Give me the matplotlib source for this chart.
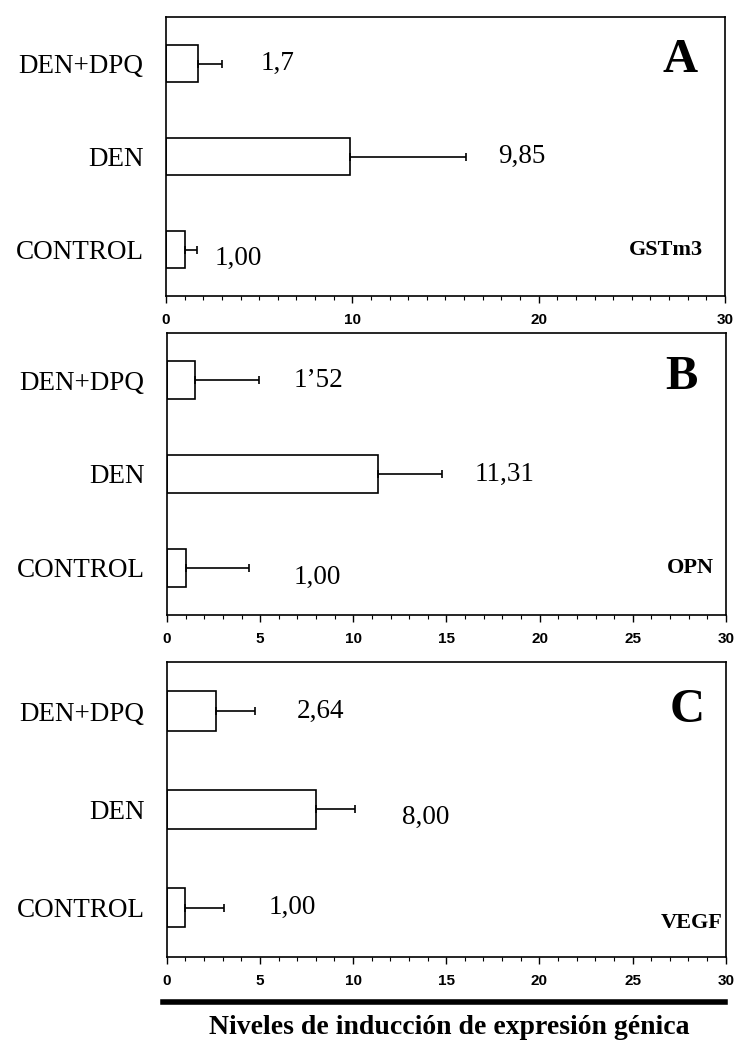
import matplotlib
matplotlib.use("Agg")
import matplotlib.pyplot as plt
from matplotlib.ticker import MultipleLocator
from matplotlib.lines import Line2D

# data
categories = ["CONTROL", "DEN", "DEN+DPQ"]
gstm3_vals = [1.00, 9.85, 1.70]
gstm3_err = [0.66, 6.25, 1.30]
gstm3_text = ["1,00", "9,85", "1,7"]
opn_vals = [1.00, 11.31, 1.52]
opn_err = [3.40, 3.45, 3.40]
opn_text = ["1,00", "11,31", "1\u201952"]
vegf_vals = [1.00, 8.00, 2.64]
vegf_err = [2.10, 2.10, 2.10]
vegf_text = ["1,00", "8,00", "2,64"]

serif = "Liberation Serif"
sans = "Liberation Sans"

fig = plt.figure(figsize=(7.36, 10.43), dpi=100)

panels = [
    # axes rect, values, errors, texts, text positions, major step, letter, gene, letter pos, gene pos
    ([0.2255, 0.7162, 0.7595, 0.2675], gstm3_vals, gstm3_err, gstm3_text,
     [(2.6, -0.1), (17.8, 0.0), (5.1, 0.0)], 10, "A", "GSTm3", (0.92, 0.846), (0.895, 0.165)),
    ([0.2269, 0.4104, 0.7595, 0.2703], opn_vals, opn_err, opn_text,
     [(6.8, -0.1), (16.5, 0.0), (6.8, 0.0)], 5, "B", "OPN", (0.921, 0.844), (0.937, 0.167)),
    ([0.2265, 0.0825, 0.7595, 0.2828], vegf_vals, vegf_err, vegf_text,
     [(5.45, 0.0), (12.65, -0.08), (7.0, 0.0)], 5, "C", "VEGF", (0.932, 0.837), (0.94, 0.115)),
]

for rect, vals, errs, texts, tpos, step, letter, gene, lpos, gpos in panels:
    ax = fig.add_axes(rect)
    y = list(range(len(categories)))
    ax.barh(y, vals, height=0.4, color="white", edgecolor="black", linewidth=1.2,
            xerr=[[0] * len(errs), errs],
            error_kw=dict(ecolor="black", elinewidth=1.2, capsize=3.2, capthick=1.2))
    ax.set_xlim(0, 30)
    ax.set_ylim(-0.5, 2.5)
    ax.set_yticks(y)
    ax.set_yticklabels(categories, fontfamily=serif, fontsize=19.5)
    ax.tick_params(axis="y", length=0, pad=16)
    ax.xaxis.set_major_locator(MultipleLocator(step))
    ax.xaxis.set_minor_locator(MultipleLocator(1))
    ax.tick_params(axis="x", which="major", direction="out", length=5, width=1.0,
                   labelsize=11, pad=7)
    ax.tick_params(axis="x", which="minor", direction="out", length=3, width=0.8)
    for lab in ax.get_xticklabels():
        lab.set_fontfamily(sans)
        lab.set_fontweight("bold")
    for sp in ax.spines.values():
        sp.set_linewidth(1.2)

    for (tx, dy), t, yy in zip(tpos, texts, y):
        ax.text(tx, yy + dy, t, ha="left", va="center", fontfamily=serif, fontsize=19.5)

    ax.text(lpos[0], lpos[1], letter, transform=ax.transAxes, ha="center", va="center",
            fontfamily=serif, fontweight="bold", fontsize=35)
    ax.text(gpos[0], gpos[1], gene, transform=ax.transAxes, ha="center", va="center",
            fontfamily=serif, fontweight="bold", fontsize=16)

# thick bar under the last axis
fig.add_artist(Line2D([0.2215, 0.985], [0.0393, 0.0393], color="black", linewidth=4,
                      transform=fig.transFigure))
fig.text(0.611, 0.0144, "Niveles de inducción de expresión génica", ha="center", va="center",
         fontfamily=serif, fontweight="bold", fontsize=20)

plt.savefig("out.png", dpi=100)
plt.close()
